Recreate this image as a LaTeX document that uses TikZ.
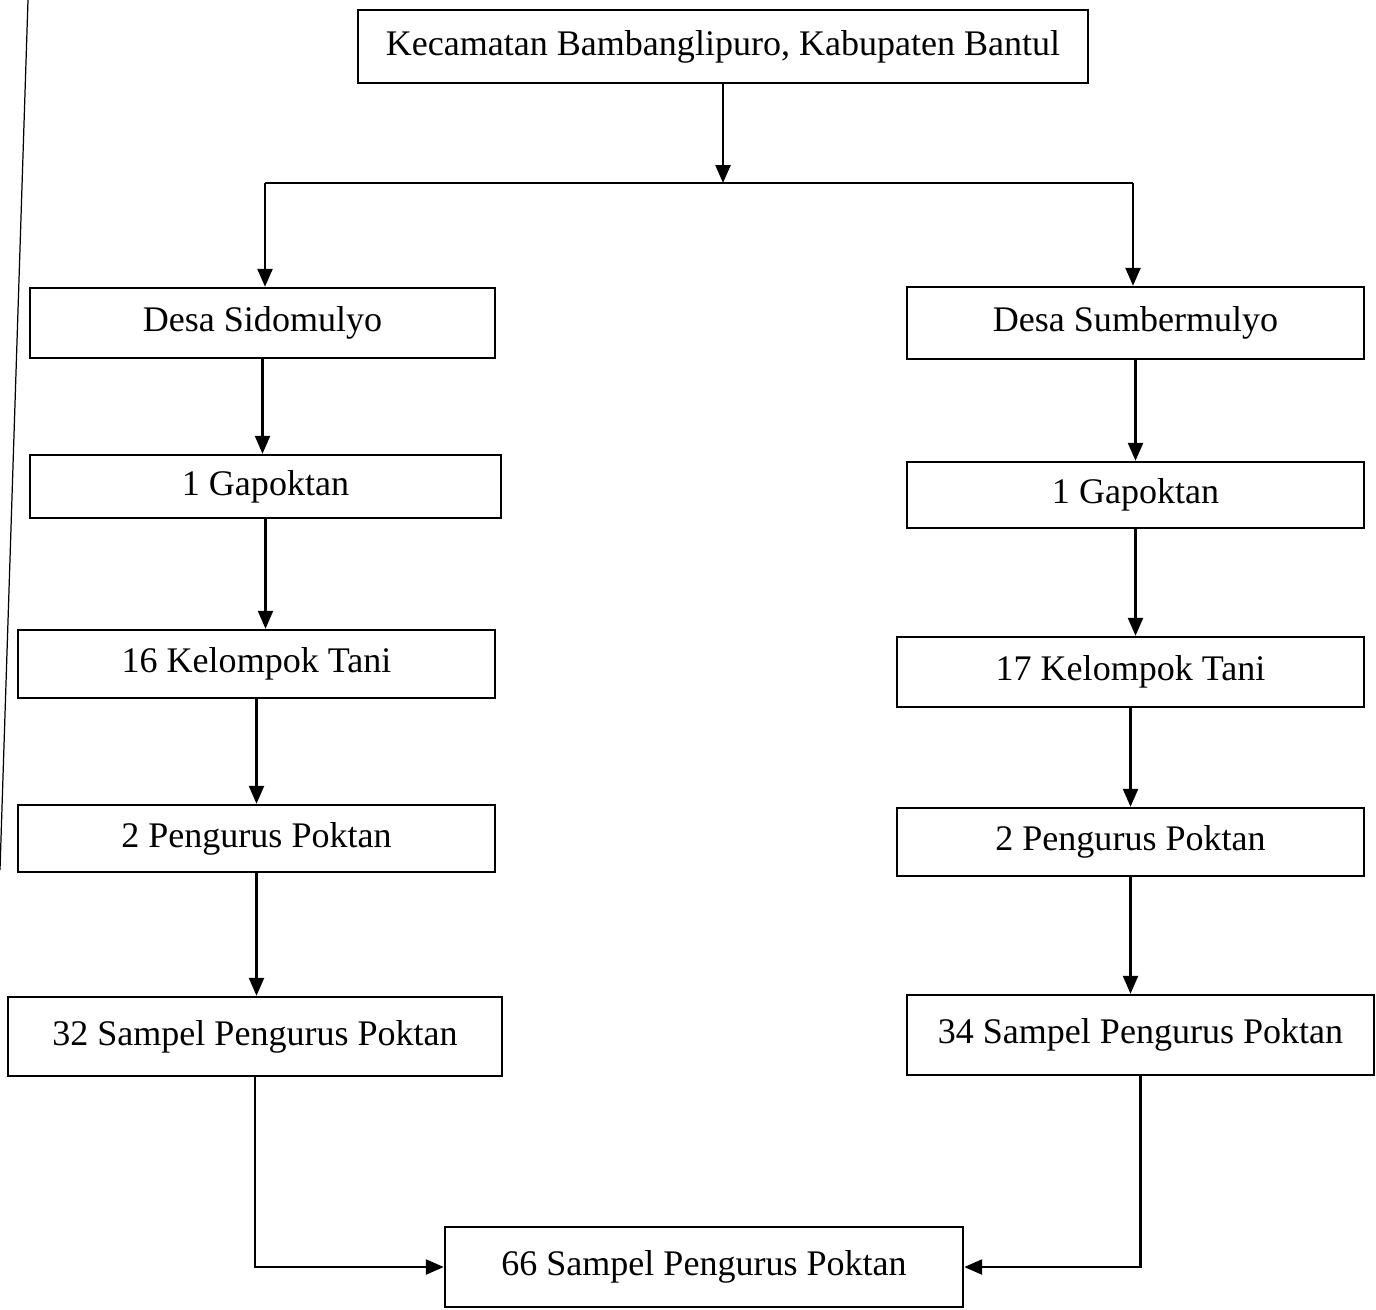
\documentclass[tikz,border=0pt]{standalone}
\usepackage{fontspec}
\setmainfont{Liberation Serif}
\usetikzlibrary{arrows.meta}

\begin{document}
\begin{tikzpicture}[->,>={Triangle[length=3.6mm,width=3mm]},line width=1.4pt,
    box node/.style={draw,rectangle,inner sep=0pt,font=\fontsize{20.5}{24}\selectfont}]

            \useasboundingbox (0,0) rectangle (27.52,-26.18);

            \node[box node,minimum width=14.6cm,minimum height=1.46cm] (kec) at (14.46,-0.93) {Kecamatan Bambanglipuro, Kabupaten Bantul};

            \node[box node,minimum width=9.3cm,minimum height=1.4cm] (sido) at (5.25,-6.46) {Desa Sidomulyo};
            \node[box node,minimum width=9.42cm,minimum height=1.26cm] (gapL) at (5.31,-9.73) {1 Gapoktan};
            \node[box node,minimum width=9.54cm,minimum height=1.36cm] (kelL) at (5.13,-13.28) {16 Kelompok Tani};
            \node[box node,minimum width=9.54cm,minimum height=1.34cm] (pengL) at (5.13,-16.77) {2 Pengurus Poktan};
            \node[box node,minimum width=9.88cm,minimum height=1.58cm] (sampL) at (5.10,-20.73) {32 Sampel Pengurus Poktan};

            \node[box node,minimum width=9.14cm,minimum height=1.44cm] (sumber) at (22.71,-6.46) {Desa Sumbermulyo};
            \node[box node,minimum width=9.14cm,minimum height=1.32cm] (gapR) at (22.71,-9.90) {1 Gapoktan};
            \node[box node,minimum width=9.34cm,minimum height=1.40cm] (kelR) at (22.61,-13.44) {17 Kelompok Tani};
            \node[box node,minimum width=9.34cm,minimum height=1.36cm] (pengR) at (22.61,-16.84) {2 Pengurus Poktan};
            \node[box node,minimum width=9.34cm,minimum height=1.60cm] (sampR) at (22.81,-20.70) {34 Sampel Pengurus Poktan};

            \node[box node,minimum width=10.36cm,minimum height=1.6cm] (total) at (14.08,-25.34) {66 Sampel Pengurus Poktan};

            \coordinate (split) at (14.46,-3.66);
            \coordinate (splitL) at (5.30,-3.66);
            \coordinate (splitR) at (22.66,-3.66);

            % scanned page edge
            \draw[-,line width=0.7pt] (0.56,0) -- (0,-17.4);

            \draw (kec.south) -- (split);
            \draw[-] (splitL) -- (splitR);
            \draw (splitL) -- (splitL |- sido.north);
            \draw (splitR) -- (splitR |- sumber.north);

            \path
                (sido.south) edge (sido.south |- gapL.north)
                (gapL.south) edge (gapL.south |- kelL.north)
                (kelL.south) edge (kelL.south |- pengL.north)
                (pengL.south) edge (pengL.south |- sampL.north)
                (sumber.south) edge (sumber.south |- gapR.north)
                (gapR.south) edge (gapR.south |- kelR.north)
                (kelR.south) edge (kelR.south |- pengR.north)
                (pengR.south) edge (pengR.south |- sampR.north)
                ;

            \draw (sampL.south) |- (total.west);
            \draw (sampR.south) |- (total.east);
        \end{tikzpicture}
\end{document}
